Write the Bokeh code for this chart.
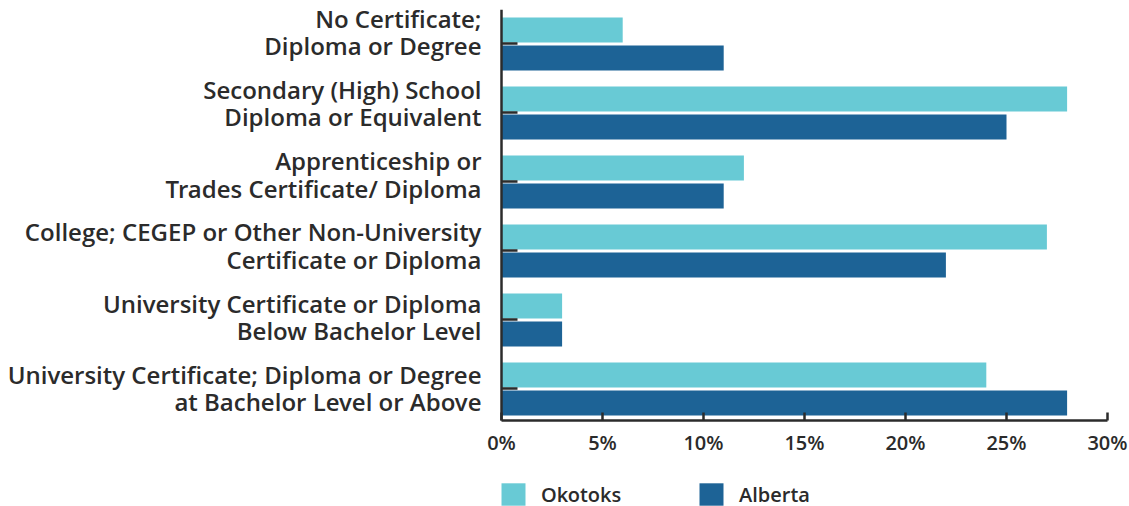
from bokeh.plotting import figure
from bokeh.models import (ColumnDataSource, Range1d, FixedTicker, Legend,
                          LegendItem, LinearAxis)
from bokeh.transform import dodge
from bokeh.embed import file_html
from bokeh.resources import INLINE

categories = [
    "No Certificate;\nDiploma or Degree",
    "Secondary (High) School\nDiploma or Equivalent",
    "Apprenticeship or\nTrades Certificate/ Diploma",
    "College; CEGEP or Other Non-University\nCertificate or Diploma",
    "University Certificate or Diploma\nBelow Bachelor Level",
    "University Certificate; Diploma or Degree\nat Bachelor Level or Above",
]
okotoks = [6, 28, 12, 27, 3, 24]
alberta = [11, 25, 11, 22, 3, 28]
x_ticks = [0, 5, 10, 15, 20, 25, 30]
x_tick_labels = ["0%", "5%", "10%", "15%", "20%", "25%", "30%"]
series_names = ["Okotoks", "Alberta"]
colors = ["#68cad5", "#1d6396"]

FONT = "Open Sans SemiBold"
TEXT = "#2b2b2b"

pos = list(range(len(categories)))
src = ColumnDataSource(dict(y=pos, okotoks=okotoks, alberta=alberta))

# bar area spans x 0..30, y -0.5..5.457; frame extends beyond it so that
# the fixed axes' labels and the legend are not clipped
BAR_BOTTOM = 5.457
p = figure(frame_width=645, frame_height=497, output_backend="svg", toolbar_location=None,
           x_range=Range1d(-0.8416, 31.089), y_range=Range1d(6.703, -0.5),
           min_border_left=484, min_border_right=0, min_border_top=9, min_border_bottom=0)
p.outline_line_color = None
p.xgrid.visible = False
p.ygrid.visible = False
p.background_fill_color = "white"

r1 = p.hbar(y=dodge("y", -0.203, range=p.y_range), right="okotoks", left=0, height=0.362,
            source=src, fill_color=colors[0], line_color=None)
r2 = p.hbar(y=dodge("y", 0.203, range=p.y_range), right="alberta", left=0, height=0.362,
            source=src, fill_color=colors[1], line_color=None)

# y axis: line + small inner ticks at group centres (no labels), fixed at x=0
ya = p.yaxis[0]
ya.fixed_location = 0
ya.bounds = (-0.5, BAR_BOTTOM)
ya.ticker = FixedTicker(ticks=pos)
ya.major_label_overrides = {i: "" for i in pos}
ya.major_label_text_font_size = "0px"
ya.major_label_standoff = 0
ya.major_tick_in = 16
ya.major_tick_out = 0
ya.minor_tick_line_color = None
ya.axis_line_width = 2.5
ya.axis_line_color = TEXT
ya.major_tick_line_width = 2.5
ya.major_tick_line_color = TEXT

# category labels on their own (slightly wider-spaced) range
p.extra_y_ranges = {"labels": Range1d(start=6.664, end=-0.316)}
la = LinearAxis(y_range_name="labels")
la.ticker = FixedTicker(ticks=pos)
la.major_label_overrides = {i: c for i, c in zip(pos, categories)}
la.axis_line_color = None
la.major_tick_line_color = None
la.minor_tick_line_color = None
la.major_tick_in = 0
la.major_tick_out = 0
la.major_label_standoff = 3
la.major_label_text_font = FONT
la.major_label_text_font_size = "24px"
la.major_label_text_line_height = 0.826
la.major_label_text_color = TEXT
la.major_label_text_align = "right"
p.add_layout(la, "left")

# x axis, fixed at the bottom of the bar area
xa = p.xaxis[0]
xa.fixed_location = BAR_BOTTOM
xa.bounds = (0, 30)
xa.ticker = FixedTicker(ticks=x_ticks)
xa.major_label_overrides = {t: l for t, l in zip(x_ticks, x_tick_labels)}
xa.major_tick_in = 8
xa.major_tick_out = 0
xa.minor_tick_line_color = None
xa.axis_line_width = 2.5
xa.axis_line_color = TEXT
xa.major_tick_line_width = 2.5
xa.major_tick_line_color = TEXT
xa.major_label_standoff = 8
xa.major_label_text_font = FONT
xa.major_label_text_font_size = "20px"
xa.major_label_text_color = TEXT

legend = Legend(items=[LegendItem(label=series_names[0], renderers=[r1]),
                       LegendItem(label=series_names[1], renderers=[r2])],
                location=(14, -2), orientation="horizontal",
                glyph_width=30, glyph_height=28, label_standoff=13, label_width=155,
                label_height=28,
                spacing=0, padding=0, margin=0,
                border_line_alpha=0, background_fill_alpha=0,
                label_text_font=FONT, label_text_font_size="20px", label_text_color=TEXT,
                label_text_baseline="middle")
p.add_layout(legend)

open("out.html", "w").write(file_html(p, INLINE))
